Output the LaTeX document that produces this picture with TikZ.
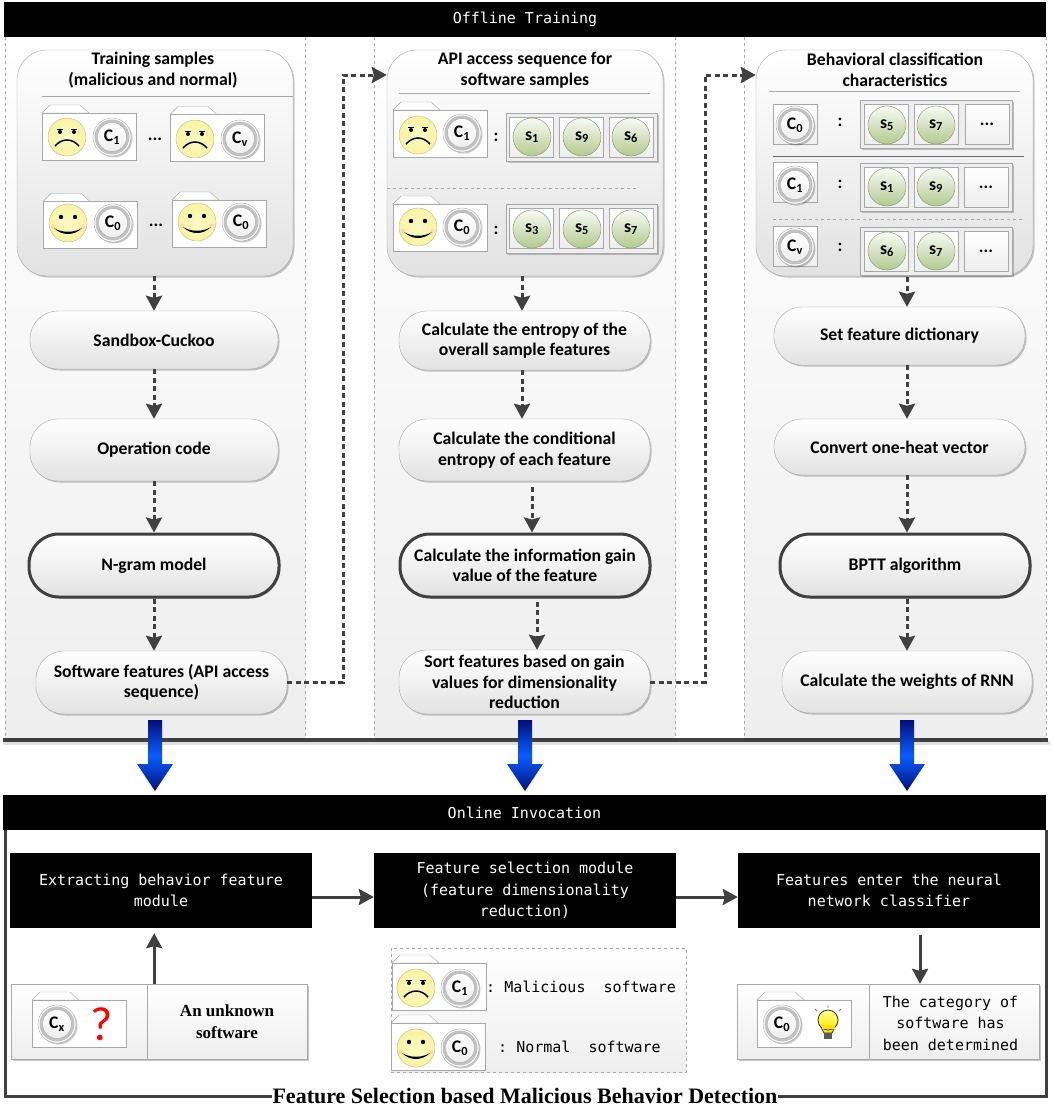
\documentclass[tikz,border=0pt]{standalone}
\usepackage{fontspec}
\setmainfont{Liberation Serif}
\setsansfont{Carlito}
\setmonofont{DejaVu Sans Mono}
\usetikzlibrary{arrows.meta,shadows,calc}
\definecolor{darkline}{HTML}{404040}
\definecolor{panelgray}{HTML}{EEEEEE}
\definecolor{boxgray}{HTML}{E2E2E2}
\definecolor{edgegray}{HTML}{A8A8A8}
\definecolor{faceyellow}{HTML}{F8F4A0}
\definecolor{faceedge}{HTML}{BDBB8A}
\definecolor{featgreen}{HTML}{B2CA8E}
\definecolor{featedge}{HTML}{7F906A}
\definecolor{navyblue}{HTML}{00107A}
\definecolor{brightblue}{HTML}{0A5CFF}
\tikzset{
softshadow/.style={drop shadow={shadow xshift=1.5pt,shadow yshift=-1.5pt,opacity=.22,fill=black}},
boldtext/.style={font=\fontsize{17.7}{20.5}\selectfont\sffamily\bfseries,align=center,text=black},
monotext/.style={font=\fontsize{15}{21.5}\selectfont\ttfamily,align=center},
containerbox/.style={draw=edgegray,rounded corners=30pt,top color=white,bottom color=boxgray,softshadow,inner sep=0pt,minimum width=276pt,minimum height=226pt},
pillbox/.style={draw=edgegray,rounded corners=28pt,top color=white,bottom color=boxgray,softshadow,boldtext,inner sep=0pt,minimum width=251pt},
thickpill/.style={pillbox,draw=darkline,line width=3pt,rounded corners=30pt},
blackbar/.style={fill=black,text=white,monotext,inner sep=0pt},
dasharrow/.style={draw=darkline,line width=3pt,dash pattern=on 5pt off 3.5pt,-{Stealth[length=15pt,width=16pt,inset=2pt]}},
solidarrow/.style={draw=darkline,line width=3pt,-{Stealth[length=15pt,width=16pt,inset=2pt]}},
framelines/.style={draw=darkline,line width=3pt},
traybox/.style={draw=edgegray,fill=panelgray,softshadow,inner sep=0pt},
squarebox/.style={draw=edgegray,top color=white,bottom color=panelgray,inner sep=0pt,minimum width=44pt,minimum height=40pt,boldtext},
panelbox/.style={draw=edgegray,top color=white,bottom color=panelgray,softshadow,inner sep=0pt,minimum height=75pt},
colline/.style={draw=edgegray,dashed,line width=.7pt},
pics/folderbox/.style={code={
\draw[draw=edgegray,fill=white] (0,0) -- (8,-8) -- (38,-8) -- (47,0) -- cycle;
\draw[draw=edgegray,fill=white] (0,0) rectangle (94,47);
}},
pics/sadface/.style={code={
\draw[draw=faceedge,inner color=faceyellow!60!white,outer color=faceyellow] (0,0) circle (19);
\fill[black] (-7,-5) circle (2) (7,-5) circle (2);
\draw[black,line width=.8pt] (-10,-7.5) -- (-4,-7.5) (10,-7.5) -- (4,-7.5);
\draw[black,line width=1.5pt] (-12,9) .. controls (-5,1) and (5,1) .. (12,9);
}},
pics/happyface/.style={code={
\draw[draw=faceedge,inner color=faceyellow!60!white,outer color=faceyellow] (0,0) circle (19);
\fill[black] (-7,-6) circle (2.2) (7,-6) circle (2.2);
\fill[orange!30] (-15,4) circle (2.5) (15,4) circle (2.5);
\fill[black] (-14,5) .. controls (-6,13) and (6,13) .. (14,5) .. controls (6,10) and (-6,10) .. cycle;
}},
pics/classmark/.style={code={
\draw[draw=edgegray,fill=white,softshadow] (0,0) circle (19);
\fill[edgegray!70] (0,0) circle (17.5);
\draw[draw=edgegray,top color=white,bottom color=panelgray] (0,0) circle (14.5);
\node[boldtext,inner sep=0pt] (mark) at (0,0) {C\textsubscript{#1}};
}},
pics/featmark/.style={code={
\draw[draw=featedge,top color=featgreen!8!white,bottom color=featgreen] (0,0) circle (19);
\node[boldtext,inner sep=0pt] (mark) at (0,0) {s\textsubscript{#1}};
}},
pics/bluearrow/.style={code={
\shade[top color=navyblue,bottom color=navyblue,middle color=brightblue]
(-7,0) -- (7,0) -- (7,44) -- (18,44) -- (0,71) -- (-18,44) -- (-7,44) -- cycle;
}},
pics/bulbmark/.style={code={
\draw[draw=black!80,line width=.8pt,fill=yellow!85!orange] (-4,9) -- (-8,1) -- (8,1) -- (4,9) -- cycle;
\draw[draw=black!80,line width=.8pt,top color=yellow!45!white,bottom color=yellow!85!orange] (0,-4) circle (10);
\fill[yellow!85!orange] (-6.5,1) rectangle (6.5,5);
\fill[gray!70!black] (-4,9) rectangle (4,15);
\draw[gray,line width=.8pt] (-11,-13) -- (-13,-15) (0,-16) -- (0,-19) (11,-13) -- (13,-15);
}}
}
\begin{document}
\begin{tikzpicture}[x=1pt,y=-1pt]
\useasboundingbox[fill=white] (0,0) rectangle (1052,1106);
\shade[top color=white,bottom color=panelgray] (5,37) rectangle (305,740);
\shade[top color=white,bottom color=panelgray] (374,37) rectangle (675,740);
\shade[top color=white,bottom color=panelgray] (744,37) rectangle (1046,740);
\draw[colline] (5,37) -- (5,742);
\draw[colline] (305,37) -- (305,742);
\draw[colline] (374,37) -- (374,742);
\draw[colline] (675,37) -- (675,742);
\draw[colline] (744,37) -- (744,742);
\draw[colline] (1046,37) -- (1046,742);
\node[blackbar,minimum width=1042pt,minimum height=35pt] (offlinebar) at (525,19.5) {Offline Training};

\node[containerbox] (trainbox) at (155,163) {};
\node[boldtext] (traintitle) at (153,70) {Training samples\\(malicious and normal)};
\draw[draw=edgegray] (42,96) -- (293,96);
\pic at (42,113) {folderbox};
\pic (sadc) at (67,137) {sadface};
\pic (sadd) at (112,137) {classmark=1};
\node[boldtext] (dotsa) at (155,139) {...};
\pic at (170,114.5) {folderbox};
\pic (sade) at (195,139) {sadface};
\pic (sadf) at (240,139) {classmark=v};
\pic at (43,201.5) {folderbox};
\pic (hapc) at (68,223) {happyface};
\pic (hapd) at (113,223) {classmark=0};
\node[boldtext] (dotsb) at (156,225) {...};
\pic at (172,200) {folderbox};
\pic (hape) at (197,222) {happyface};
\pic (hapf) at (241,222) {classmark=0};

\node[pillbox,minimum width=248pt,minimum height=58pt] (sandbox) at (154,340) {Sandbox-Cuckoo};
\node[pillbox,minimum width=248pt,minimum height=62pt] (opcode) at (154,450) {Operation code};
\node[thickpill,minimum width=250pt,minimum height=63pt] (ngram) at (154,565.5) {N-gram model};
\node[pillbox,minimum height=63pt] (software) at (161.5,682.5) {Software features (API access\\sequence)};
\draw[dasharrow] (sandbox.north |- trainbox.south) -- (sandbox.north);
\draw[dasharrow] (sandbox.south) -- (opcode.north);
\draw[dasharrow] (opcode.south) -- (ngram.north);
\draw[dasharrow] (ngram.south) -- (ngram.south |- software.north);

\node[containerbox] (apibox) at (525,163) {};
\node[boldtext] (apititle) at (525,70) {API access sequence for\\software samples};
\draw[draw=edgegray] (399,93) -- (650,93);
\pic at (393,110) {folderbox};
\pic (sada) at (418,135) {sadface};
\pic (sadb) at (462,133) {classmark=1};
\node[boldtext] (colona) at (496,137) {:};
\node[traybox,minimum width=151pt,minimum height=48pt] (traya) at (581.5,137) {};
\node[squarebox] (sqa) at (531,137) {};
\node[squarebox] (sqb) at (581,137) {};
\node[squarebox] (sqc) at (631,137) {};
\pic (fa) at (532,137) {featmark=1};
\pic (fb) at (582,137) {featmark=9};
\pic (fc) at (631,137) {featmark=6};
\draw[draw=edgegray,dashed] (387,188) -- (637,188);
\pic at (393,204) {folderbox};
\pic (hapa) at (418,227) {happyface};
\pic (hapb) at (462,227) {classmark=0};
\node[boldtext] (colonb) at (496,230) {:};
\node[traybox,minimum width=151pt,minimum height=49pt] (trayb) at (581.5,228.5) {};
\node[squarebox] (sqd) at (531,228) {};
\node[squarebox] (sqe) at (581,228) {};
\node[squarebox] (sqf) at (631,228) {};
\pic (fd) at (532,229) {featmark=3};
\pic (fe) at (582,229) {featmark=5};
\pic (ff) at (631,229) {featmark=7};

\node[pillbox,minimum height=59pt] (entropy) at (524.5,340.5) {Calculate the entropy of the\\overall sample features};
\node[pillbox,minimum height=62pt] (condent) at (524.5,450) {Calculate the conditional\\entropy of each feature};
\node[thickpill,minimum width=250pt,minimum height=63pt] (infogain) at (525,565.5) {Calculate the information gain\\value of the feature};
\node[pillbox,minimum height=64pt] (sortfeat) at (524.5,682) {Sort features based on gain\\values for dimensionality\\reduction};
\draw[dasharrow] ([xshift=-3pt]apibox.south) -- ([xshift=-2.5pt]entropy.north);
\draw[dasharrow] ([xshift=-2.5pt]entropy.south) -- ([xshift=-2.5pt]condent.north);
\draw[dasharrow] ([xshift=7.5pt,yshift=-6pt]condent.south) -- ([xshift=7pt]infogain.north);
\draw[dasharrow] ([xshift=12pt,yshift=-3pt]infogain.south) -- ([xshift=12.5pt]sortfeat.north);

\node[containerbox,minimum width=277pt] (behavebox) at (894.5,163) {};
\node[boldtext] (behavetitle) at (895,70) {Behavioral classification\\characteristics};
\draw[draw=edgegray] (769,91) -- (1020,91);
\node[squarebox] (cboxa) at (795,124) {};
\pic (cmarka) at (795,125) {classmark=0};
\node[boldtext] (colonc) at (840,122) {:};
\node[traybox,minimum width=152pt,minimum height=48pt] (trayc) at (936,124) {};
\node[squarebox] (sqg) at (886,124) {};
\node[squarebox] (sqh) at (936,124) {};
\node[squarebox] (dotsc) at (987,124) {...};
\pic (fg) at (887,125) {featmark=5};
\pic (fh) at (936,125) {featmark=7};
\draw[draw=darkline!80,line width=.9pt] (773,156) -- (1024,156);
\node[squarebox] (cboxb) at (795,182.5) {};
\pic (cmarkb) at (795,185) {classmark=1};
\node[boldtext] (colond) at (840,184) {:};
\node[traybox,minimum width=152pt,minimum height=48pt] (trayd) at (936,187) {};
\node[squarebox] (sqi) at (886,187) {};
\node[squarebox] (sqj) at (936,187) {};
\node[squarebox] (dotsd) at (986,187) {...};
\pic (fi) at (887,187) {featmark=1};
\pic (fj) at (936,187) {featmark=9};
\draw[draw=edgegray,dashed] (773,219) -- (1024,219);
\node[squarebox] (cboxc) at (795,246.5) {};
\pic (cmarkc) at (795,247) {classmark=v};
\node[boldtext] (colone) at (840,247) {:};
\node[traybox,minimum width=152pt,minimum height=48pt] (traye) at (936,251) {};
\node[squarebox] (sqk) at (886,251) {};
\node[squarebox] (sql) at (936,251) {};
\node[squarebox] (dotse) at (986,251) {...};
\pic (fk) at (887,251) {featmark=6};
\pic (fl) at (936,251) {featmark=7};

\node[pillbox,minimum height=58pt] (setdict) at (899.5,336) {Set feature dictionary};
\node[pillbox,minimum height=56pt] (onehot) at (899.5,447) {Convert one-heat vector};
\node[thickpill,minimum width=250pt,minimum height=63pt] (bptt) at (905,565.5) {BPTT algorithm};
\node[pillbox,minimum width=250pt,minimum height=62pt] (weights) at (907,682) {Calculate the weights of RNN};
\draw[dasharrow] ([xshift=12.5pt,yshift=-1pt]behavebox.south) -- ([xshift=7.5pt]setdict.north);
\draw[dasharrow] ([xshift=7.5pt]setdict.south) -- ([xshift=7.5pt]onehot.north);
\draw[dasharrow] ([xshift=7.5pt]onehot.south) -- ([xshift=2pt]bptt.north);
\draw[dasharrow] ([xshift=2pt]bptt.south) -- (weights.north);

\coordinate (elbowa) at (343,75);
\coordinate (elbowb) at (705,75);
\draw[dasharrow] (software.east) -| (elbowa) -- (apibox.west |- elbowa);
\draw[dasharrow] (sortfeat.east) -| (elbowb) -- (behavebox.west |- elbowb);

\draw[draw=black!12,line width=4pt] (3,743) -- (1050,743);
\draw[draw=darkline,line width=4pt] (3,740) -- (1048,740);
\pic at (155,720) {bluearrow};
\pic at (525,720) {bluearrow};
\pic at (907,720) {bluearrow};

\node[blackbar,minimum width=1043pt,minimum height=35pt] (onlinebar) at (524.5,812.5) {Online Invocation};
\node[font=\fontsize{22}{24}\selectfont\bfseries,inner sep=0pt] (bottomtitle) at (525,1096) {Feature Selection based Malicious Behavior Detection};
\coordinate (framela) at (5,830);
\coordinate (framera) at (1046,830);
\draw[framelines] (framela) |- (bottomtitle.west);
\draw[framelines] (framera) |- (bottomtitle.east);

\node[blackbar,minimum width=302pt,minimum height=75pt] (extract) at (161,890.5) {Extracting behavior feature\\module};
\node[blackbar,minimum width=302pt,minimum height=75pt] (selectmod) at (525,890.5) {Feature selection module\\(feature dimensionality\\reduction)};
\node[blackbar,minimum width=302pt,minimum height=75pt] (classifier) at (889,890.5) {Features enter the neural\\network classifier};
\draw[solidarrow] ([yshift=-6.5pt]extract.east) -- ([yshift=-6.5pt]selectmod.west);
\draw[solidarrow] ([yshift=-6.5pt]selectmod.east) -- ([yshift=-6.5pt]classifier.west);

\node[panelbox,minimum width=136pt] (unknownleft) at (79,1021.5) {};
\node[panelbox,minimum width=160pt,font=\fontsize{17}{22}\selectfont\bfseries,align=center] (unknowntext) at (227,1021.5) {An unknown\\software};
\pic at (32,1000) {folderbox};
\pic (cmarkx) at (57,1024) {classmark=x};
\node[font=\fontsize{48}{48}\selectfont\sffamily,text=red,inner sep=0pt] (qmark) at (102,1024) {?};
\draw[solidarrow] ([xshift=7pt]unknownleft.north east) -- ([xshift=7pt,yshift=-5pt]unknownleft.north east |- extract.south);

\node[panelbox,minimum width=132pt] (categoryleft) at (803,1021.5) {};
\node[panelbox,minimum width=170pt] (categoryright) at (954,1021.5) {};
\node[monotext,inner sep=0pt] (categorytext) at (950.5,1023) {The category of\\software has\\been determined};
\pic at (757,1000) {folderbox};
\pic (cmarky) at (782,1024) {classmark=0};
\pic at (828,1024) {bulbmark};
\coordinate (classout) at (920,935);
\draw[solidarrow] (classout) -- (classout |- categoryright.north);

\node[draw=edgegray,dashed,line width=.8pt,top color=white,bottom color=panelgray,minimum width=295pt,minimum height=124pt,inner sep=0pt] (legendbox) at (538.5,1010) {};
\pic at (392,963) {folderbox};
\pic (sadg) at (416,988) {sadface};
\pic (sadh) at (460,988) {classmark=1};
\node[monotext,anchor=west,inner sep=0pt] (legenda) at (486,987) {:\ Malicious\ \ software};
\pic at (391,1023) {folderbox};
\pic (hapg) at (416,1048) {happyface};
\pic (haph) at (460,1048) {classmark=0};
\node[monotext,anchor=west,inner sep=0pt] (legendb) at (498,1047) {:\ Normal\ \ software};
\end{tikzpicture}
\end{document}
